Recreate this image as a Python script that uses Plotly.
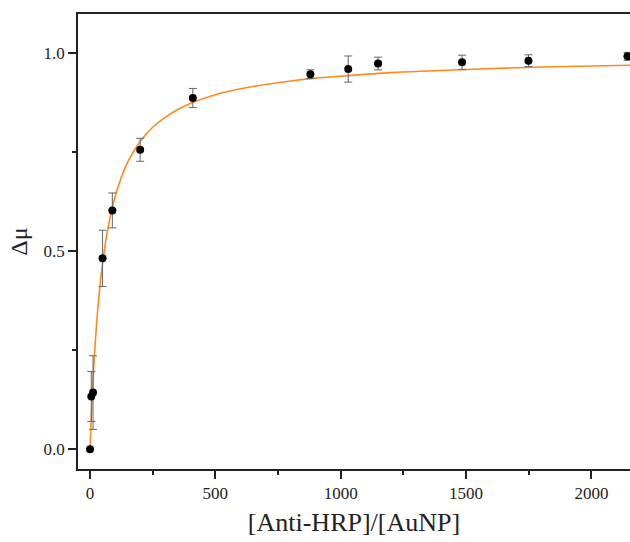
import plotly.graph_objects as go

# measured points (ratio, delta mu, error)
razao = [0, 5, 12, 50, 89, 200, 410, 879, 1030, 1149, 1484, 1749, 2144]
delta_mu = [0.0, 0.133, 0.143, 0.482, 0.603, 0.756, 0.887, 0.947, 0.960, 0.974, 0.977, 0.981, 0.992]
erro = [0.0, 0.063, 0.093, 0.071, 0.044, 0.029, 0.024, 0.011, 0.033, 0.016, 0.018, 0.015, 0.010]

# fitted curve
curva_x = [0, 2.5, 5, 10, 15, 20, 30, 40, 50, 70, 100, 150, 200, 250, 300, 350, 400, 500,
           600, 700, 800, 900, 1000, 1200, 1500, 1800, 2200]
curva_y = [0.0, 0.043, 0.082, 0.151, 0.210, 0.262, 0.347, 0.415, 0.469, 0.553, 0.638, 0.725,
           0.777, 0.813, 0.838, 0.858, 0.873, 0.895, 0.910, 0.921, 0.930, 0.937, 0.942,
           0.951, 0.959, 0.965, 0.970]

serif = "Liberation Serif, Times New Roman, serif"
preto = "#222222"

fig = go.Figure()

fig.add_trace(go.Scatter(
    x=curva_x, y=curva_y, mode="lines",
    line=dict(color="#ff8a1c", width=1.6, shape="spline", smoothing=0.8),
    showlegend=False, hoverinfo="skip",
))

fig.add_trace(go.Scatter(
    x=razao, y=delta_mu, mode="markers",
    marker=dict(color="black", size=8),
    error_y=dict(type="data", array=erro, color="#666666", thickness=1, width=4),
    showlegend=False,
))

fig.update_layout(
    width=630, height=542,
    margin=dict(l=78, r=0, t=14, b=73, autoexpand=False),
    plot_bgcolor="white", paper_bgcolor="white",
    font=dict(family=serif, size=17, color=preto),
)

fig.update_xaxes(
    range=[-48, 2154], showgrid=False, zeroline=False, automargin=False,
    showline=True, linecolor=preto, linewidth=1.5, mirror=True,
    ticks="outside", ticklen=8, tickwidth=1.5, tickcolor=preto,
    tickvals=[0, 500, 1000, 1500, 2000],
    minor=dict(ticks="outside", ticklen=4, tickwidth=1.5, tickcolor=preto,
               tickvals=[250, 750, 1250, 1750]),
    tickfont=dict(family=serif, size=17, color=preto),
    title=dict(text="[Anti-HRP]/[AuNP]", font=dict(family=serif, size=26, color=preto), standoff=11),
)

fig.update_yaxes(
    range=[-0.05, 1.099], showgrid=False, zeroline=False, automargin=False,
    showline=True, linecolor=preto, linewidth=1.5,
    ticks="outside", ticklen=8, tickwidth=1.5, tickcolor=preto,
    tickvals=[0, 0.5, 1.0], ticktext=["0.0", "0.5", "1.0"],
    minor=dict(ticks="outside", ticklen=4, tickwidth=1.5, tickcolor=preto,
               tickvals=[0.25, 0.75]),
    tickfont=dict(family=serif, size=17, color=preto),
    title=dict(text="Δμ", font=dict(family=serif, size=24, color=preto), standoff=9),
)

# page body has a default 8px margin; remove it so the figure fills the window
fig.write_html("out.html", config={"displayModeBar": False},
               post_script="document.body.style.margin='0';document.body.style.overflow='hidden';")
